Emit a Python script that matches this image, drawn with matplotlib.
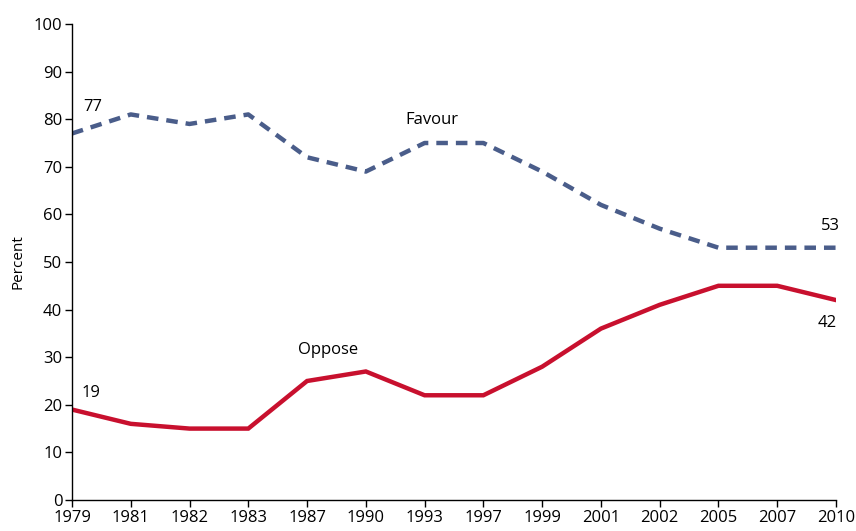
import matplotlib.pyplot as plt

years = ["1979", "1981", "1982", "1983", "1987", "1990", "1993",
         "1997", "1999", "2001", "2002", "2005", "2007", "2010"]
favour = [77, 81, 79, 81, 72, 69, 75, 75, 69, 62, 57, 53, 53, 53]
oppose = [19, 16, 15, 15, 25, 27, 22, 22, 28, 36, 41, 45, 45, 42]

plt.rcParams['font.family'] = ['Open Sans', 'DejaVu Sans']

fig = plt.figure(figsize=(8.56, 5.31), dpi=100)
ax = fig.add_axes([0.0841, 0.0584, 0.8925, 0.8964])

x = list(range(len(years)))
ax.plot(x, favour, color="#4a5d8a", linewidth=3.2, dashes=(2.6, 1.8))
ax.plot(x, oppose, color="#c8102e", linewidth=3.2, solid_joinstyle="miter")

ax.set_xlim(0, len(years) - 1)
ax.set_ylim(0, 100)
ax.set_xticks(x)
ax.set_xticklabels(years)
ax.set_yticks(range(0, 101, 10))
ax.tick_params(labelsize=12, length=5, width=1, direction="out", pad=2)
ax.set_ylabel("Percent", fontsize=11, labelpad=6)

ax.spines['right'].set_visible(False)
ax.spines['top'].set_visible(False)
for s in ("left", "bottom"):
    ax.spines[s].set_linewidth(1)
ax.spines['left'].set_bounds(0, 100)

# etiquetas
kw = dict(fontsize=12, ha="center", va="center")
ax.text(0.36, 82.6, str(favour[0]), **kw)
ax.text(0.32, 22.5, str(oppose[0]), **kw)
ax.text(12.9, 57.6, str(favour[-1]), **kw)
ax.text(12.85, 37.2, str(oppose[-1]), **kw)
ax.text(6.13, 79.8, "Favour", **kw)
ax.text(4.36, 31.5, "Oppose", **kw)

fig.savefig("out.png", dpi=100)
